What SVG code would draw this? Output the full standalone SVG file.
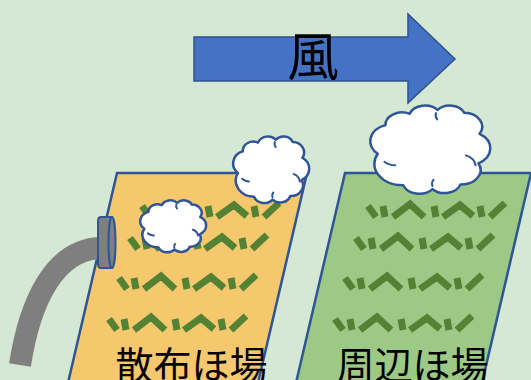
<svg xmlns="http://www.w3.org/2000/svg" xmlns:xlink="http://www.w3.org/1999/xlink" width="531" height="380" viewBox="0 0 531 380">
  <style>
    .field { stroke: #2f5597; stroke-width: 2.5; stroke-linejoin: miter; }
    .plant path { fill: none; stroke: #548235; stroke-width: 7; stroke-linecap: butt; stroke-linejoin: miter; }
    .cloud { fill: #ffffff; stroke: #2f5597; stroke-width: 2.5; stroke-linejoin: round; }
    .crease { fill: none; stroke: #2f5597; stroke-width: 2; stroke-linecap: round; }
    .label { font-family: "Noto Sans CJK JP", "Noto Sans CJK SC", sans-serif; fill: #000000; text-anchor: middle; }
  </style>
  <defs>
    <!-- one row of crop seedlings, origin at the row's top-left -->
    <g id="row" class="plant">
      <path d="M3 5 L11 16 M18 5 L20 16 M28 16 L45 3 L59 16 M69 5 L71 16 M78 16 L95 4 L108 15 M115 5 L117 16 M125 16 L140 2"/>
    </g>
    <!-- cloud outline in a 100x100 box -->
    <g id="cloudShape">
      <path class="cloud" vector-effect="non-scaling-stroke" d="M6.5 54.2 A18.8 18.8 0 0 1 12.9 22.4 A13.8 13.8 0 0 1 33 9.7 A13.8 13.8 0 0 1 56.4 5.5 A13 13 0 0 1 78.6 8.7 A15.4 15.4 0 0 1 91.3 32 A19 19 0 0 1 90.3 64.8 A16 16 0 0 1 75.4 88.2 A13.9 13.9 0 0 1 52.1 93.5 A14.3 14.3 0 0 1 27.7 89.2 A23.7 23.7 0 0 1 6.5 54.2 Z"/>
      <path class="crease" vector-effect="non-scaling-stroke" d="M80 56 Q87 59 88 67 M12 63 Q16 67 21 67 M55 9 Q54 13 56 16 M52 90 Q51 86 53 83"/>
    </g>
  </defs>

  <!-- background -->
  <rect width="531" height="380" fill="#d5e8d4"/>

  <!-- wind arrow -->
  <g id="wind">
    <polygon points="194,37 408,37 408,14 455,59 408,103 408,81 194,81" fill="#4472c4" stroke="#2f528f" stroke-width="1.5"/>
    <text class="label" x="313" y="76" font-size="52">風</text>
  </g>

  <!-- neighbouring field -->
  <g id="field-neighbour">
    <polygon class="field" points="345,173 531,173 478,400 292,400" fill="#9cc986"/>
    <use xlink:href="#row" href="#row" x="365" y="201"/>
    <use xlink:href="#row" href="#row" x="353" y="233"/>
    <use xlink:href="#row" href="#row" x="342" y="273"/>
    <use xlink:href="#row" href="#row" x="332" y="314"/>
  </g>

  <g id="cloud-neighbour">
    <use xlink:href="#cloudShape" href="#cloudShape" transform="translate(370,105) scale(1.2,0.9)"/>
  </g>

  <!-- sprayed field -->
  <g id="field-sprayed">
    <polygon class="field" points="117,173 307,173 254,400 64,400" fill="#f6c86d"/>
    <use xlink:href="#row" href="#row" x="139" y="201"/>
    <use xlink:href="#row" href="#row" x="127" y="233"/>
    <use xlink:href="#row" href="#row" x="116" y="273"/>
    <use xlink:href="#row" href="#row" x="106" y="314"/>
  </g>

  <!-- spray hose and nozzle -->
  <g id="hose">
    <path d="M20 365 C30 300 55 250 100 248" fill="none" stroke="#7f7f7f" stroke-width="22" stroke-linecap="butt"/>
    <path d="M112 217 H101 Q98 217 98 221 V264 Q98 268 101 268 H112 Z" fill="#7f7f7f" stroke="#2f5597" stroke-width="2"/>
    <ellipse cx="112" cy="242.5" rx="3.5" ry="25.5" fill="#7f7f7f" stroke="#2f5597" stroke-width="2"/>
  </g>

  <!-- drift clouds over the sprayed field -->
  <g id="cloud-corner">
    <use xlink:href="#cloudShape" href="#cloudShape" transform="translate(233,136) scale(0.76,0.68)"/>
  </g>
  <g id="cloud-small">
    <use xlink:href="#cloudShape" href="#cloudShape" transform="translate(140,200) scale(0.66,0.53)"/>
  </g>

  <!-- field labels -->
  <g id="labels">
    <text class="label" x="191.5" y="379" font-size="38">散布ほ場</text>
    <text class="label" x="412.5" y="379" font-size="38">周辺ほ場</text>
  </g>
</svg>
